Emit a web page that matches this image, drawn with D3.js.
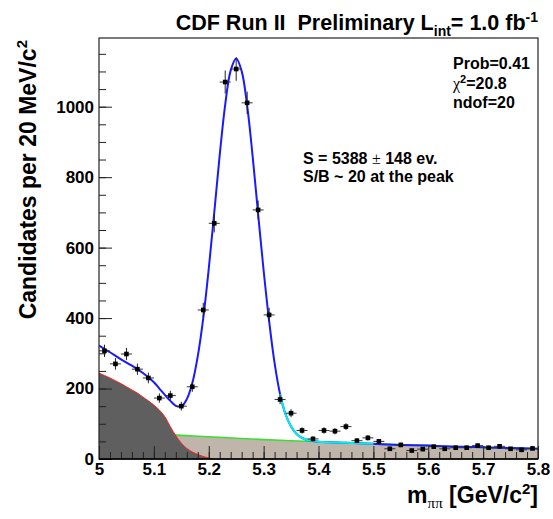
<!DOCTYPE html>
<html>
<head>
<meta charset="utf-8">
<script src="https://cdn.jsdelivr.net/npm/d3@7"></script>
<style>
  body { margin: 0; background: #fff; }
  text { font-family: "Liberation Sans", Arial, sans-serif; font-weight: bold; white-space: pre; fill: #000; }
</style>
</head>
<body>
<div id="chart"></div>
<script>
// set the dimensions and margins of the graph
var margin = { top: 38, right: 15, bottom: 60, left: 99 },
  width = 553 - margin.left - margin.right,
  height = 519 - margin.top - margin.bottom;

// data histogram: 20 MeV bins
const massBins = [5.01, 5.03, 5.05, 5.07, 5.09, 5.11, 5.13, 5.15, 5.17, 5.19,
  5.21, 5.23, 5.25, 5.27, 5.29, 5.31, 5.33, 5.35, 5.37, 5.39,
  5.41, 5.43, 5.45, 5.47, 5.49, 5.51, 5.53, 5.55, 5.57, 5.59,
  5.61, 5.63, 5.65, 5.67, 5.69, 5.71, 5.73, 5.75, 5.77, 5.79];
const counts = [307, 270, 298, 255, 230, 173, 180, 150, 205, 423,
  669, 1070, 1107, 1011, 707, 409, 169, 130, 81, 57,
  81, 79, 92, 52, 60, 50, 29, 40, 24, 28,
  35, 29, 32, 32, 38, 32, 36, 29, 26, 30];
const countErrors = [17.5, 16.4, 17.3, 16.0, 15.2, 13.2, 13.4, 12.2, 14.3, 20.6,
  25.9, 32.7, 33.3, 31.8, 26.6, 20.2, 13.0, 11.4, 9.0, 7.5,
  9.0, 8.9, 9.6, 7.2, 7.7, 7.1, 5.4, 6.3, 4.9, 5.3,
  5.9, 5.4, 5.7, 5.7, 6.2, 5.7, 6.0, 5.4, 5.1, 5.5];

// total fit (blue)
const fitMass = [5.00, 5.02, 5.04, 5.06, 5.08, 5.10, 5.11, 5.12, 5.13, 5.14,
  5.15, 5.16, 5.17, 5.18, 5.19, 5.20, 5.21, 5.22, 5.23, 5.24,
  5.25, 5.26, 5.27, 5.28, 5.29, 5.30, 5.31, 5.32, 5.33, 5.34,
  5.35, 5.36, 5.37, 5.38, 5.39, 5.40, 5.45, 5.50, 5.55, 5.60,
  5.65, 5.70, 5.75, 5.80];
const fitTotal = [322, 303, 283, 265, 244, 218, 200, 182, 165, 151,
  149, 170, 215, 292, 400, 540, 699, 863, 1006, 1103,
  1137, 1101, 1003, 859, 695, 535, 392, 272, 184, 127,
  92, 71, 60, 54, 51, 49, 46, 43, 40, 38,
  35, 33, 31, 29];

// cyan component over the right tail
const cyanMass = [5.33, 5.34, 5.35, 5.36, 5.37, 5.38, 5.39, 5.40, 5.45, 5.50];
const cyanFit = [184, 127, 92, 71, 60, 54, 51, 49, 46, 43];

// combinatorial background (tan fill, green line)
const combMass = [5.00, 5.05, 5.10, 5.15, 5.20, 5.25, 5.30, 5.35, 5.40,
  5.45, 5.50, 5.55, 5.60, 5.65, 5.70, 5.75, 5.80];
const combBkg = [81, 76, 72, 67, 63, 59, 55, 52, 49, 46, 43, 40, 38, 35, 33, 31, 29];

// partially reconstructed B decays (dark fill)
const physMass = [5.00, 5.01, 5.02, 5.03, 5.04, 5.05, 5.06, 5.07, 5.08, 5.09, 5.10,
  5.11, 5.12, 5.13, 5.14, 5.15, 5.16, 5.17, 5.18, 5.19, 5.20, 5.21];
const physBkg = [244, 237, 230, 222, 214, 205, 196, 187, 176, 165, 153,
  139, 120, 92, 66, 45, 30, 20, 13, 7, 3, 0];

// axis ticks
const xTickValues = [5.0, 5.1, 5.2, 5.3, 5.4, 5.5, 5.6, 5.7, 5.8];
const xTickLabels = ["5", "5.1", "5.2", "5.3", "5.4", "5.5", "5.6", "5.7", "5.8"];
const yTickValues = [0, 200, 400, 600, 800, 1000];
const yTickLabels = ["0", "200", "400", "600", "800", "1000"];

var svg = d3.select("#chart")
  .append("svg")
  .attr("width", width + margin.left + margin.right)
  .attr("height", height + margin.top + margin.bottom)
  .style("background", "#fff");

var g = svg.append("g")
  .attr("transform", "translate(" + margin.left + "," + margin.top + ")");

var x = d3.scaleLinear().domain([5.0, 5.8]).range([0, width]);
var y = d3.scaleLinear().domain([0, 1195]).range([height, 0]);

g.append("clipPath").attr("id", "plotclip")
  .append("rect").attr("width", width).attr("height", height);

var plot = g.append("g").attr("clip-path", "url(#plotclip)");

var zip = (xs, ys) => xs.map((m, i) => [m, ys[i]]);

// combinatorial background fill
plot.append("path")
  .datum(zip(combMass, combBkg))
  .attr("fill", "#c0b5aa")
  .attr("d", d3.area().x(d => x(d[0])).y0(height).y1(d => y(d[1])).curve(d3.curveMonotoneX));

plot.append("path")
  .datum(zip(combMass, combBkg))
  .attr("fill", "none")
  .attr("stroke", "#3fdc35")
  .attr("stroke-width", 1.6)
  .attr("d", d3.line().x(d => x(d[0])).y(d => y(d[1])).curve(d3.curveMonotoneX));

// physics background fill
plot.append("path")
  .datum(zip(physMass, physBkg))
  .attr("fill", "#5f5f5f")
  .attr("d", d3.area().x(d => x(d[0])).y0(height).y1(d => y(d[1])).curve(d3.curveMonotoneX));

plot.append("path")
  .datum(zip(physMass, physBkg))
  .attr("fill", "none")
  .attr("stroke", "#ff2020")
  .attr("stroke-width", 1)
  .attr("d", d3.line().x(d => x(d[0])).y(d => y(d[1])).curve(d3.curveMonotoneX));

// Add X axis (ticks inside the frame)
var xMinor = g.append("g").attr("transform", "translate(0," + height + ")")
  .call(d3.axisBottom(x).tickValues(x.ticks(40)).tickSizeInner(-7).tickSizeOuter(0).tickFormat(""));
var xAxis = g.append("g").attr("transform", "translate(0," + height + ")")
  .call(d3.axisBottom(x).tickValues(xTickValues).tickSizeInner(-13).tickSizeOuter(0).tickPadding(4)
    .tickFormat((d, i) => xTickLabels[i]));

// Add Y axis
var yMinor = g.append("g")
  .call(d3.axisLeft(y).tickValues(y.ticks(24)).tickSizeInner(-7).tickSizeOuter(0).tickFormat(""));
var yAxis = g.append("g")
  .call(d3.axisLeft(y).tickValues(yTickValues).tickSizeInner(-13).tickSizeOuter(0).tickPadding(5)
    .tickFormat((d, i) => yTickLabels[i]));

[xMinor, xAxis, yMinor, yAxis].forEach(a => {
  a.select(".domain").remove();
  a.selectAll("line").attr("stroke", "#222").attr("stroke-width", 1);
});
[xAxis, yAxis].forEach(a => a.selectAll("text")
  .style("font-size", "17px").style("font-family", "'Liberation Sans', Arial, sans-serif")
  .style("font-weight", "bold").attr("fill", "#000"));

// fit curves
plot.append("path")
  .datum(zip(fitMass, fitTotal))
  .attr("fill", "none")
  .attr("stroke", "#1a1aff")
  .attr("stroke-width", 2)
  .attr("d", d3.line().x(d => x(d[0])).y(d => y(d[1])).curve(d3.curveCatmullRom.alpha(0.5)));

plot.append("path")
  .datum(zip(cyanMass, cyanFit))
  .attr("fill", "none")
  .attr("stroke", "#00f0f0")
  .attr("stroke-width", 2)
  .attr("d", d3.line().x(d => x(d[0])).y(d => y(d[1])).curve(d3.curveCatmullRom.alpha(0.5)));

// data points with error bars
var points = g.append("g").selectAll("g")
  .data(zip(massBins, counts))
  .enter().append("g");

points.append("line")
  .attr("x1", d => x(d[0] - 0.01)).attr("x2", d => x(d[0] + 0.01))
  .attr("y1", d => y(d[1])).attr("y2", d => y(d[1]))
  .attr("stroke", "#333").attr("stroke-width", 1);

points.append("line")
  .attr("x1", d => x(d[0])).attr("x2", d => x(d[0]))
  .attr("y1", (d, i) => y(d[1] - countErrors[i])).attr("y2", (d, i) => y(d[1] + countErrors[i]))
  .attr("stroke", "#222").attr("stroke-width", 1);

points.append("rect")
  .attr("x", d => x(d[0]) - 2.3).attr("y", d => y(d[1]) - 2.3)
  .attr("width", 4.6).attr("height", 4.6)
  .attr("fill", "#000");

// frame
g.append("rect")
  .attr("width", width).attr("height", height)
  .attr("fill", "none").attr("stroke", "#222").attr("stroke-width", 1.2);
g.append("line")
  .attr("x1", 0).attr("x2", width).attr("y1", height).attr("y2", height)
  .attr("stroke", "#000").attr("stroke-width", 1.6);

// Title
var title = svg.append("text")
  .attr("x", 538).attr("y", 30)
  .attr("text-anchor", "end")
  .style("font-size", "21.5px");
title.append("tspan").text("CDF Run II  Preliminary L");
title.append("tspan").attr("dy", 6).style("font-size", "14px").text("int");
title.append("tspan").attr("dy", -6).text("= 1.0 fb");
title.append("tspan").attr("dy", -8).style("font-size", "14px").text("-1");

// X-axis label
var xl = svg.append("text")
  .attr("x", 538).attr("y", 503)
  .attr("text-anchor", "end")
  .style("font-size", "23px");
xl.append("tspan").text("m");
xl.append("tspan").attr("dy", 5).style("font-size", "15px")
  .style("font-family", "'Liberation Serif', 'DejaVu Serif', serif").style("font-weight", "normal").text("\u03c0\u03c0");
xl.append("tspan").attr("dy", -5).text(" [GeV/c");
xl.append("tspan").attr("dy", -9).style("font-size", "15px").text("2");
xl.append("tspan").attr("dy", 9).text("]");

// Y-axis label
var yl = svg.append("text")
  .attr("transform", "translate(36,40) rotate(-90)")
  .attr("text-anchor", "end")
  .style("font-size", "23px");
yl.append("tspan").text("Candidates per 20 MeV/c");
yl.append("tspan").attr("dy", -9).style("font-size", "15px").text("2");

// fit statistics
var stats = svg.append("g").style("font-size", "16px");
stats.append("text").attr("x", 453).attr("y", 69).text("Prob=0.41");
var chi = stats.append("text").attr("x", 453).attr("y", 89);
chi.append("tspan").style("font-family", "'Liberation Serif', 'DejaVu Serif', serif").style("font-weight", "normal").text("\u03c7");
chi.append("tspan").attr("dy", -6).style("font-size", "11px").text("2");
chi.append("tspan").attr("dy", 6).text("=20.8");
stats.append("text").attr("x", 453).attr("y", 108).text("ndof=20");

var sig = svg.append("g").style("font-size", "16px");
var s1 = sig.append("text").attr("x", 303).attr("y", 164);
s1.append("tspan").text("S = 5388 ");
s1.append("tspan").style("font-family", "'Liberation Serif', 'DejaVu Serif', serif").style("font-weight", "normal").text("\u00b1");
s1.append("tspan").text(" 148 ev.");
sig.append("text").attr("x", 303).attr("y", 182).text("S/B ~ 20 at the peak");
</script>
</body>
</html>
